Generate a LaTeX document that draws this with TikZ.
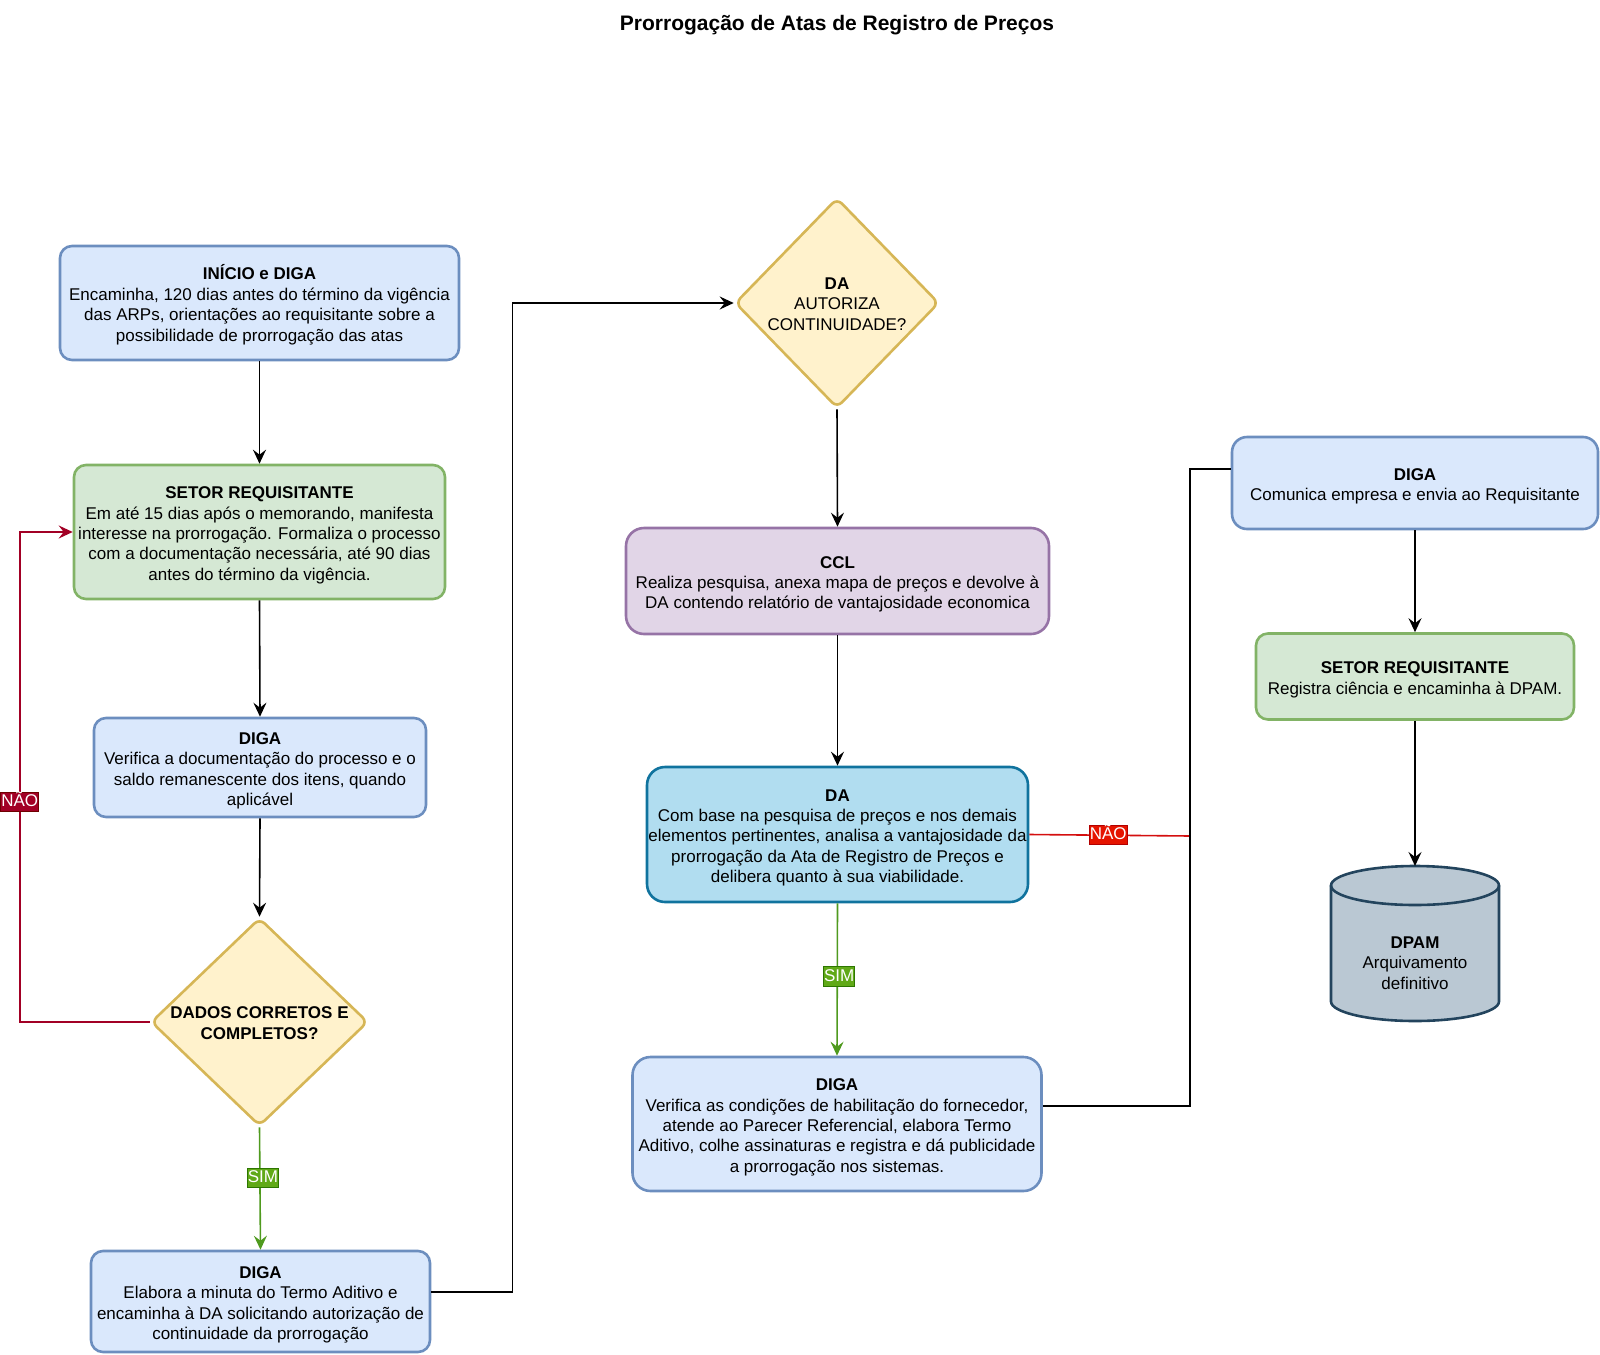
\documentclass[tikz,border=0pt]{standalone}
\usepackage{fontspec}
\setmainfont{Liberation Sans}
\usetikzlibrary{shapes.geometric,arrows.meta}
\definecolor{bfill}{HTML}{DAE8FC}\definecolor{bline}{HTML}{6C8EBF}
\definecolor{gfill}{HTML}{D5E8D4}\definecolor{gline}{HTML}{82B366}
\definecolor{yfill}{HTML}{FFF2CC}\definecolor{yline}{HTML}{D6B656}
\definecolor{pfill}{HTML}{E1D5E7}\definecolor{pline}{HTML}{9673A6}
\definecolor{dfill}{HTML}{B1DDF0}\definecolor{dline}{HTML}{10739E}
\definecolor{cfill}{HTML}{BAC8D3}\definecolor{cline}{HTML}{23445D}
\definecolor{simfill}{HTML}{60A917}\definecolor{simline}{HTML}{2D7600}\definecolor{simedge}{HTML}{4F9A1E}
\definecolor{naoAfill}{HTML}{A20025}\definecolor{naoAline}{HTML}{6F0000}
\definecolor{naoBfill}{HTML}{E51400}\definecolor{naoBline}{HTML}{B20000}\definecolor{naoBedge}{HTML}{D40F0F}
\newcommand\tp{\rule{0pt}{18.5pt}}
\tikzset{
  txt/.style={font=\fontsize{17}{20.4}\selectfont, align=center},
  box/.style={txt, draw, line width=2.6pt, rounded corners=12pt, inner sep=0pt},
  bluebox/.style={box, fill=bfill, draw=bline},
  greenbox/.style={box, fill=gfill, draw=gline},
  purplebox/.style={box, fill=pfill, draw=pline},
  dabox/.style={box, fill=dfill, draw=dline},
  decision/.style={diamond, draw=yline, fill=yfill, line width=2.6pt, rounded corners=7pt, inner sep=0pt},
  tip/.style={-{Stealth[length=14pt,width=13pt,inset=5pt]}},
  conn/.style={line width=1.6pt, draw=black},
  arr/.style={conn, tip},
  simarr/.style={line width=1.6pt, draw=simedge, tip},
  naoAarr/.style={line width=1.6pt, draw=naoAfill, tip},
  naoBline/.style={line width=1.6pt, draw=naoBedge},
  lbl/.style={font=\fontsize{17}{20}\selectfont, text=white, text height=13pt, text depth=3.5pt,
              inner xsep=0.6pt, inner ysep=1.5pt, line width=1pt},
  simlbl/.style={lbl, fill=simfill, draw=simline},
  naoAlbl/.style={lbl, fill=naoAfill, draw=naoAline},
  naoBlbl/.style={lbl, fill=naoBfill, draw=naoBline},
}
\begin{document}
\begin{tikzpicture}[x=1pt,y=-1pt]
\useasboundingbox (0,0) rectangle (1600,1354);
\node[font=\fontsize{21}{25}\selectfont\bfseries] (title) at (837,25) {Prorrogação de Atas de Registro de Preços};

% left column
\node[bluebox, minimum width=399pt, minimum height=114pt] (b1) at (259.5,303)
 {\tp\textbf{INÍCIO e DIGA}\\Encaminha, 120 dias antes do término da vigência\\das ARPs, orientações ao requisitante sobre a\\possibilidade de prorrogação das atas};
\node[greenbox, minimum width=371pt, minimum height=134pt] (b2) at (259.5,532)
 {\tp\textbf{SETOR REQUISITANTE}\\Em até 15 dias após o memorando, manifesta\\interesse na prorrogação. Formaliza o processo\\com a documentação necessária, até 90 dias\\antes do término da vigência.};
\node[bluebox, minimum width=332pt, minimum height=99pt] (b3) at (260,767.5)
 {\tp\textbf{DIGA}\\Verifica a documentação do processo e o\\saldo remanescente dos itens, quando\\aplicável};
\node[decision, minimum width=217pt, minimum height=208pt,
      label={[txt, font=\fontsize{17}{20.4}\selectfont\bfseries, yshift=-1pt]center:DADOS CORRETOS E\\COMPLETOS?}] (d1) at (259.5,1022) {};
\node[bluebox, minimum width=339pt, minimum height=101pt] (b5) at (260.5,1301.5)
 {\tp\textbf{DIGA}\\Elabora a minuta do Termo Aditivo e\\encaminha à DA solicitando autorização de\\continuidade da prorrogação};

% middle column
\node[decision, minimum width=204pt, minimum height=210pt,
      label={[txt, yshift=-1pt]center:\textbf{DA}\\AUTORIZA\\CONTINUIDADE?}] (d2) at (837,303) {};
\node[purplebox, rounded corners=18pt, minimum width=423pt, minimum height=106pt] (ccl) at (837.5,581)
 {\tp\textbf{CCL}\\Realiza pesquisa, anexa mapa de preços e devolve à\\DA contendo relatório de vantajosidade economica};
\node[dabox, rounded corners=18pt, minimum width=381pt, minimum height=135pt] (da) at (837.5,834.5)
 {\tp\textbf{DA}\\Com base na pesquisa de preços e nos demais\\elementos pertinentes, analisa a vantajosidade da\\prorrogação da Ata de Registro de Preços e\\delibera quanto à sua viabilidade.};
\node[bluebox, rounded corners=18pt, minimum width=409pt, minimum height=134pt] (dv) at (837,1124)
 {\tp\textbf{DIGA}\\Verifica as condições de habilitação do fornecedor,\\atende ao Parecer Referencial, elabora Termo\\Aditivo, colhe assinaturas e registra e dá publicidade\\a prorrogação nos sistemas.};

% right column
\node[bluebox, rounded corners=15pt, minimum width=366pt, minimum height=92pt] (g2) at (1415,483)
 {\tp\textbf{DIGA}\\Comunica empresa e envia ao Requisitante};
\node[greenbox, minimum width=318pt, minimum height=86pt] (s2) at (1415,676.5)
 {\tp\textbf{SETOR REQUISITANTE}\\Registra ciência e encaminha à DPAM.};
\draw[fill=cfill, draw=cline, line width=2.6pt]
  (1331,885.5) -- (1331,1001.5) arc[start angle=180, end angle=360, x radius=84pt, y radius=19.5pt]
  -- (1499,885.5) arc[start angle=0, end angle=180, x radius=84pt, y radius=19.5pt] -- cycle;
\draw[draw=cline, line width=2.6pt] (1331,885.5) arc[start angle=180, end angle=360, x radius=84pt, y radius=19.5pt];
\coordinate (dpamtop) at (1415,866);
\node[txt, inner sep=0pt] (dpam) at (1415,963) {\textbf{DPAM}\\Arquivamento\\definitivo};

% connectors
\draw[arr] (b1.south) -- (b2.north);
\draw[arr] (b2.south) -- (b3.north);
\draw[arr] (b3.south) -- (d1.north);
\draw[naoAarr] (d1.west) -- ++(-130,0) -- node[naoAlbl, pos=0.449] {NÃO} ++(0,-490) -- (b2.west);
\draw[simarr] (d1.south) -- node[simlbl, pos=0.416, xshift=3pt] {SIM} (b5.north);
\draw[arr] ([yshift=9.5pt]b5.east) -- ++(81,0) |- (d2.west);
\draw[arr] (d2.south) -- (ccl.north);
\draw[arr] (ccl.south) -- (da.north);
\draw[simarr] (da.south) -- node[simlbl, pos=0.48, xshift=2pt] {SIM} (dv.north);
\draw[naoBline] (da.east) -- node[naoBlbl, pos=0.49] {NÃO} ++(161,1.5);
\draw[conn] ([yshift=18pt]dv.east) -- ++(147,0) |- ([yshift=14pt]g2.west);
\draw[arr] (g2.south) -- (s2.north);
\draw[arr] (s2.south) -- (dpamtop);
\end{tikzpicture}
\end{document}
